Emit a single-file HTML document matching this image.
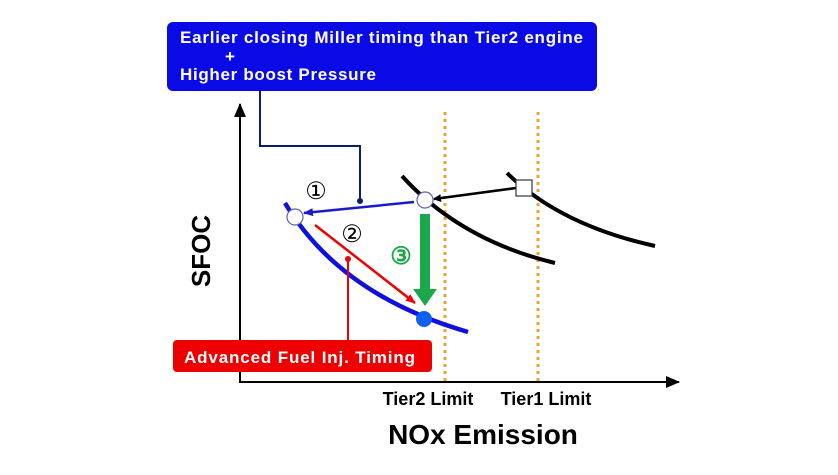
<!DOCTYPE html>
<html><head><meta charset="utf-8"><style>
body{margin:0;background:#fff;width:838px;height:470px;overflow:hidden;font-family:"Liberation Sans",sans-serif}
</style></head><body>
<svg width="838" height="470" viewBox="0 0 838 470" font-family="Liberation Sans, sans-serif">
<defs>
<marker id="ab" markerWidth="8" markerHeight="8" refX="7" refY="4" orient="auto" markerUnits="userSpaceOnUse"><path d="M0,0 L8,4 L0,8z" fill="#000"/></marker>
<marker id="abl" markerWidth="10" markerHeight="10" refX="9" refY="5" orient="auto" markerUnits="userSpaceOnUse"><path d="M0,1 L10,5 L0,9z" fill="#1a1acc"/></marker>
<marker id="ar" markerWidth="10" markerHeight="10" refX="9" refY="5" orient="auto" markerUnits="userSpaceOnUse"><path d="M0,1 L10,5 L0,9z" fill="#e00"/></marker>
<marker id="ax" markerWidth="14" markerHeight="12" refX="13" refY="6" orient="auto" markerUnits="userSpaceOnUse"><path d="M0,0 L14,6 L0,12z" fill="#000"/></marker>
</defs>
<line x1="240" y1="382" x2="240" y2="104" stroke="#000" stroke-width="2" marker-end="url(#ax)"/>
<line x1="239" y1="382" x2="679" y2="382" stroke="#000" stroke-width="2" marker-end="url(#ax)"/>
<text x="201" y="251" font-size="26" font-weight="bold" text-anchor="middle" dominant-baseline="central" transform="rotate(-90 201 251)">SFOC</text>
<text x="483" y="444" font-size="28" font-weight="bold" text-anchor="middle">NOx Emission</text>
<line x1="445" y1="112" x2="445" y2="381" stroke="#f0a030" stroke-width="3" stroke-dasharray="3,4"/>
<line x1="538" y1="112" x2="538" y2="381" stroke="#f0a030" stroke-width="3" stroke-dasharray="3,4"/>
<text x="428" y="405" font-size="18" font-weight="bold" text-anchor="middle">Tier2 Limit</text>
<text x="546" y="405" font-size="18" font-weight="bold" text-anchor="middle">Tier1 Limit</text>
<path d="M507,173 Q560,225 655,246" fill="none" stroke="#000" stroke-width="4"/>
<path d="M402,176 Q460,240 555,263" fill="none" stroke="#000" stroke-width="4"/>
<path d="M285,203 Q340,295 468,332" fill="none" stroke="#1010dd" stroke-width="4.5"/>
<polyline points="260,91 260,146 360,146 360,201" fill="none" stroke="#0a1e6e" stroke-width="2"/>
<circle cx="360" cy="201" r="3" fill="#0a1e6e"/>
<line x1="414" y1="202" x2="304" y2="213" stroke="#1a1acc" stroke-width="2.5" marker-end="url(#abl)"/>
<line x1="516" y1="188" x2="434" y2="199" stroke="#000" stroke-width="2.5" marker-end="url(#ab)"/>
<line x1="315" y1="225" x2="415" y2="303" stroke="#e00" stroke-width="2.5" marker-end="url(#ar)"/>
<circle cx="348" cy="259" r="3" fill="#e00"/>
<line x1="348" y1="259" x2="348" y2="341" stroke="#e00" stroke-width="2"/>
<path d="M420,214 L430,214 L430,289 L437,289 L425,306 L413,289 L420,289z" fill="#1aa84a"/>
<rect x="516" y="180" width="16" height="16" fill="#fff" stroke="#333" stroke-width="1.2"/>
<circle cx="425" cy="200" r="8" fill="#fff" stroke="#6060b0" stroke-width="1.2"/>
<circle cx="295" cy="217" r="8" fill="#fff" stroke="#6060b0" stroke-width="1.2"/>
<circle cx="424" cy="319" r="8" fill="#1060ee"/>
<text x="316" y="199" font-size="24" text-anchor="middle">①</text>
<text x="352" y="242" font-size="24" text-anchor="middle">②</text>
<text x="401" y="264" font-size="24" font-weight="bold" fill="#1aa84a" text-anchor="middle">③</text>
<rect x="167" y="22" width="430" height="69" rx="6" fill="#0a0ae6"/>
<text x="180" y="43" font-size="17" font-weight="bold" fill="#fff" textLength="403">Earlier closing Miller timing than Tier2 engine</text>
<text x="230" y="62" font-size="17" font-weight="bold" fill="#fff" text-anchor="middle">+</text>
<text x="180" y="80" font-size="17" font-weight="bold" fill="#fff" textLength="196">Higher boost Pressure</text>
<rect x="173" y="340" width="259" height="32" rx="4" fill="#ee0000"/>
<text x="184" y="363" font-size="17" font-weight="bold" fill="#fff" textLength="231">Advanced Fuel Inj. Timing</text>
</svg>
</body></html>
